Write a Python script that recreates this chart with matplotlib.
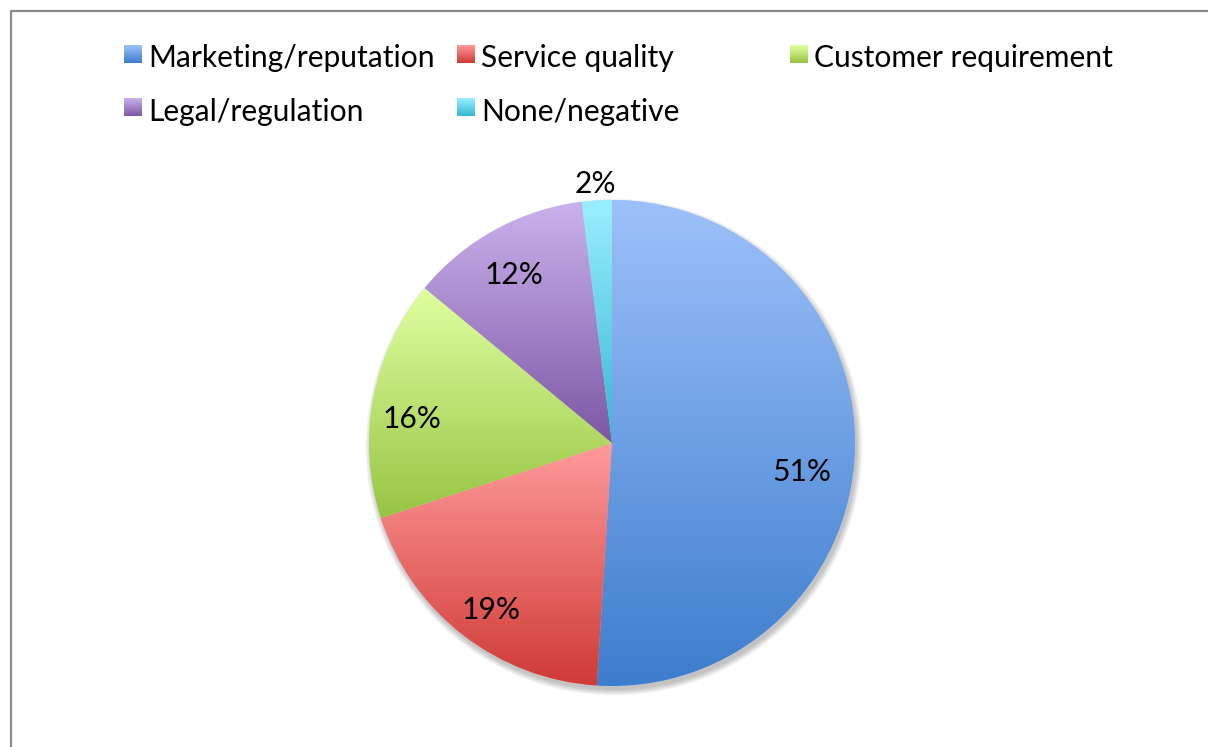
import numpy as np
import matplotlib.pyplot as plt
from matplotlib.colors import LinearSegmentedColormap
from matplotlib.patches import Circle
from matplotlib.lines import Line2D

labels = ['Marketing/reputation', 'Service quality', 'Customer requirement',
          'Legal/regulation', 'None/negative']
shares = [51, 19, 16, 12, 2]
# Excel style gradient per slice: light at top, dark at bottom
top_colors = ['#9dc1fa', '#ff9b9b', '#e0ffa0', '#cbb2ee', '#9aefff']
bottom_colors = ['#3d7dcd', '#cf3a36', '#98c444', '#7c58a3', '#38b5d4']
# label placement (fraction of radius, angle tweak in degrees) like Excel's best fit
label_dist = [0.79, 0.84, 0.83, 0.81, 1.08]
label_turn = [-6, 1.4, 3, 1, 0]

plt.rcParams['font.family'] = ['Lato', 'DejaVu Sans']
FS = 21.6

W, H = 1208, 747
fig = plt.figure(figsize=(W / 100, H / 100), dpi=100)
ax = fig.add_axes([0, 0, 1, 1])

cx, cy, R = 612, 304, 243
grad = np.linspace(0, 1, 256).reshape(-1, 1)
dy_txt = -3  # Lato sits a bit higher than Calibri

# soft drop shadow
for k in range(7):
    ax.add_patch(Circle((cx + 2, cy - 4), R + k * 0.9, color='black',
                        alpha=0.035, lw=0, zorder=0))

wedges, _ = ax.pie(shares, startangle=90, counterclock=False, center=(cx, cy),
                   radius=R, colors=top_colors, wedgeprops=dict(linewidth=0))

for i, w in enumerate(wedges):
    bb = w.get_path().get_extents()
    cmap = LinearSegmentedColormap.from_list('g', [bottom_colors[i], top_colors[i]])
    im = ax.imshow(grad, extent=[bb.x0, bb.x1, bb.y0, bb.y1], cmap=cmap,
                   origin='lower', aspect='auto', zorder=2)
    im.set_clip_path(w)
    ang = np.deg2rad((w.theta1 + w.theta2) / 2 + label_turn[i])
    d = label_dist[i] * R
    ax.text(cx + d * np.cos(ang), cy + d * np.sin(ang) + dy_txt, f'{shares[i]}%',
            ha='center', va='center', fontsize=FS, color='black', zorder=5)

# legend, Excel lays it out in equal width columns
col_x = [124, 457, 790]
row_y = [54, 107.5]
for i, lab in enumerate(labels):
    mx = col_x[i % 3]
    my = H - row_y[i // 3]
    cmap = LinearSegmentedColormap.from_list('g', [bottom_colors[i], top_colors[i]])
    ax.imshow(grad, extent=[mx, mx + 18, my - 9, my + 9], cmap=cmap,
              origin='lower', aspect='auto', zorder=2)
    ax.text(mx + 24, my + dy_txt - 1, lab, ha='left', va='center', fontsize=FS,
            color='black')

ax.set_xlim(0, W)
ax.set_ylim(0, H)
ax.set_aspect('equal')
ax.axis('off')

# chart area border (right and bottom edges fall outside the crop)
fig.add_artist(Line2D([11 / W, 11 / W, 1], [0, 1 - 11 / H, 1 - 11 / H],
                      transform=fig.transFigure, color='#8a8a8a', lw=1.6))

fig.savefig('out.png', dpi=100, facecolor='white')
